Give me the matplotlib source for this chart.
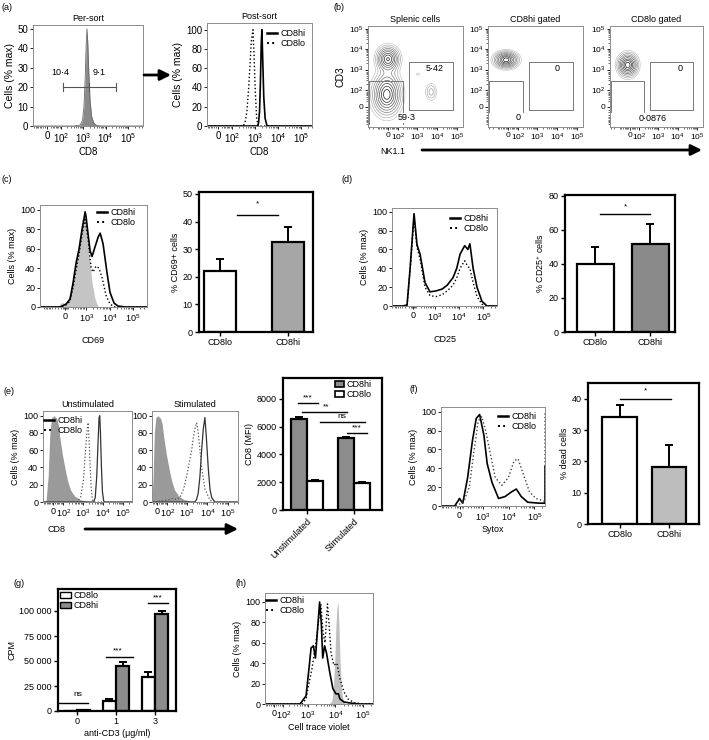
import numpy as np
import matplotlib
matplotlib.use("Agg")
import matplotlib.pyplot as plt
from matplotlib.patches import FancyArrowPatch, Patch
from matplotlib.lines import Line2D

plt.rcParams['font.family'] = ['Liberation Sans', 'DejaVu Sans']
plt.rcParams['mathtext.fontset'] = 'custom'
plt.rcParams['mathtext.rm'] = 'Liberation Sans'
plt.rcParams['mathtext.it'] = 'Liberation Sans:italic'
plt.rcParams['mathtext.bf'] = 'Liberation Sans:bold'
plt.rcParams['font.size'] = 6.5
plt.rcParams['xtick.major.size'] = 2
plt.rcParams['ytick.major.size'] = 2
plt.rcParams['xtick.minor.size'] = 1.2
plt.rcParams['ytick.minor.size'] = 1.2
plt.rcParams['xtick.major.pad'] = 1.5
plt.rcParams['ytick.major.pad'] = 1.5
plt.rcParams['axes.labelpad'] = 2

# ---------------- data ----------------
# (a) CD8 before / after sorting
pre_x = [-100, 400, 750, 950, 1100, 1250, 1380, 1500, 1620, 1800, 2050, 2400, 3000, 4000, 6000, 460000]
pre_y = [0, 0, 0.5, 3, 10, 25, 42, 50, 43, 28, 13, 5, 1.5, 0.3, 0, 0]
pre_gate = [120, 1800, 29400]
pre_gate_pct = ['10·4', '9·1']
post_lo_x = [-67, 300, 370, 450, 540, 620, 700, 830, 920, 1050, 1200, 1400, 307000]
post_lo_y = [0, 0, 3, 15, 40, 65, 88, 100, 75, 35, 8, 0, 0]
post_hi_x = [-67, 1300, 1450, 1600, 1750, 1900, 2030, 2200, 2450, 2800, 3400, 307000]
post_hi_y = [0, 0, 3, 15, 45, 85, 100, 70, 30, 8, 0, 0]

# (b) NK1.1 / CD3 populations: centre (data units), spread (display decades), weight
spl_x = [0, -10, 0, 5000, 1100]
spl_y = [3300, 54, 500, 78, 600]
spl_sx = [0.28, 0.36, 0.3, 0.16, 0.2]
spl_sy = [0.3, 0.5, 0.7, 0.24, 0.12]
spl_w = [1.0, 1.1, 0.12, 0.2, 0.05]
hig_x, hig_y, hig_sx, hig_sy, hig_w = [-15], [2970], [0.3], [0.2], [1.0]
log_x, log_y, log_sx, log_sy, log_w = [-15], [1680], [0.25], [0.28], [1.0]
gate_left_x = [-300, 190]
gate_left_top = 277
gate_right_x = [400, 60000]
gate_right_y = [-10, 2380]
spl_pct = ['5·42', '59·3']
hig_pct = ['0', '0']
log_pct = ['0', '0·0876']

# (c) CD69
cd69_iso_x = [-1460, -300, -187, -75, 23, 127, 290, 466, 644, 800, 970, 1310, 1770, 2380, 3230, 395000]
cd69_iso_y = [0, 0, 1, 5, 2, 15, 40, 70, 90, 97, 85, 55, 25, 8, 0, 0]
cd69_hi_x = [-1460, -125, 23, 127, 218, 325, 466, 644, 800, 880, 970, 1190, 1450, 1770, 2380, 3230,
             3950, 5250, 7750, 10400, 15500, 22700, 45600, 395000]
cd69_hi_y = [0, 0, 3, 8, 25, 45, 60, 80, 92, 98, 93, 75, 58, 52, 62, 72, 76, 65, 35, 15, 4, 1, 0, 0]
cd69_lo_x = [-1460, -125, 23, 127, 218, 325, 466, 644, 800, 880, 1190, 1610, 1950, 2640, 3530, 4770,
             7030, 10400, 17000, 395000]
cd69_lo_y = [0, 0, 2, 6, 20, 38, 55, 75, 86, 90, 70, 40, 36, 42, 40, 30, 12, 3, 0, 0]
groups = ['CD8lo', 'CD8hi']
cd69_mean = [22, 32.5]
cd69_err = [4.5, 5.5]

# (d) CD25
cd25_x = [-907, -300, -150, -70, 24, 97, 180, 350, 600, 1100, 2000, 3200, 5600, 8000, 11000, 17000,
          23000, 28000, 38000, 55000, 88000, 143000, 369000]
cd25_hi_y = [0, 0, 1, 40, 98, 65, 55, 25, 15, 16, 18, 22, 30, 40, 55, 64, 60, 66, 40, 20, 5, 0, 0]
cd25_lo_y = [0, 0, 1, 38, 95, 62, 50, 20, 11, 10, 12, 16, 22, 30, 40, 48, 42, 40, 25, 10, 2, 0, 0]
cd25_mean = [40, 51.5]
cd25_err = [10, 12]

# (e) CD8 after stimulation
e_un_iso_x = [-97, -60, -40, -25, -10, 10, 30, 45, 60, 90, 130, 180, 250, 400, 700, 1500, 3000, 6000, 271000]
e_un_iso_y = [0, 2, 30, 80, 98, 100, 97, 90, 75, 55, 38, 24, 14, 7, 3, 1, 0.5, 0, 0]
e_un_lo_x = [-97, 500, 800, 1100, 1400, 1700, 1900, 2200, 2600, 3000, 3500, 271000]
e_un_lo_y = [0, 0, 5, 25, 60, 85, 92, 60, 20, 3, 0, 0]
e_un_hi_x = [-97, 3500, 4200, 5000, 5800, 6500, 7000, 7600, 8500, 9500, 11000, 13000, 271000]
e_un_hi_y = [0, 0, 5, 30, 70, 98, 100, 80, 40, 12, 1, 0, 0]
e_st_iso_x = [-40, -30, -20, -8, 10, 30, 45, 60, 90, 130, 180, 250, 400, 700, 1500, 3000, 6000, 313000]
e_st_iso_y = [0, 30, 80, 98, 100, 97, 90, 75, 55, 38, 24, 14, 7, 3, 1, 0.5, 0, 0]
e_st_lo_x = [-40, 100, 200, 300, 460, 700, 990, 1300, 1730, 2100, 2500, 3030, 3610, 4400, 5300, 7670,
             13600, 20000, 313000]
e_st_lo_y = [0, 2, 4, 3, 5, 15, 30, 45, 60, 75, 85, 92, 80, 60, 40, 15, 2, 0, 0]
e_st_hi_x = [-40, 2500, 3000, 3610, 4400, 5300, 6400, 7670, 9000, 11100, 13500, 16400, 23700, 313000]
e_st_hi_y = [0, 0, 3, 10, 30, 60, 85, 98, 75, 40, 15, 5, 0, 0]
conditions = ['Unstimulated', 'Stimulated']
mfi_hi = [6550, 5150]
mfi_hi_err = [150, 100]
mfi_lo = [2100, 1950]
mfi_lo_err = [50, 50]

# (f) Sytox
f_hi_x = [-635, -300, -114, -40, 0, 40, 73, 196, 360, 530, 733, 1090, 1470, 2270, 4100, 7320, 13100,
          20100, 31200, 55800, 154000, 262000, 262000]
f_hi_y = [0, 0, 0, 5, 8, 5, 3, 30, 70, 93, 97, 75, 45, 25, 8, 10, 15, 18, 10, 4, 3, 3, 42]
f_lo_x = [-635, -300, -114, 0, 100, 246, 430, 640, 890, 1280, 1970, 3060, 5480, 9780, 16500, 23400,
          36300, 65400, 116000, 262000, 262000]
f_lo_y = [0, 0, 0, 2, 5, 20, 60, 90, 95, 80, 55, 30, 22, 30, 48, 50, 35, 15, 8, 5, 100]
dead_mean = [34, 18.2]
dead_err = [4, 7]

# (g) proliferation
doses = ['0', '1', '3']
cpm_lo = [200, 10000, 34000]
cpm_lo_err = [100, 2000, 5000]
cpm_hi = [1000, 45000, 97000]
cpm_hi_err = [300, 4000, 3000]

# (h) cell trace violet
h_hi_x = [-100, 520, 865, 1110, 1320, 1600, 1900, 2300, 2700, 3100, 3500, 4100, 4800, 6400, 8200,
          10500, 13000, 14700, 20600, 34000, 79000, 234000]
h_hi_y = [0, 0, 8, 35, 55, 57, 45, 75, 100, 80, 45, 57, 50, 30, 15, 10, 10, 5, 2, 1, 0, 0]
h_lo_x = [-100, 615, 865, 1010, 1430, 1980, 2560, 3000, 3580, 4240, 5200, 5900, 7000, 8900, 11400,
          14700, 20600, 28700, 51000, 120000, 234000]
h_lo_y = [0, 0, 5, 15, 35, 60, 85, 98, 70, 60, 98, 80, 50, 38, 40, 25, 12, 5, 1, 0, 0]
h_iso_x = [-100, 6000, 7500, 8500, 9500, 10500, 11500, 12500, 13500, 15000, 17000, 20000, 24000, 234000]
h_iso_y = [0, 0, 3, 15, 40, 75, 95, 100, 80, 40, 12, 2, 0, 0]

FLOW5 = {0: '0', 100: '$10^2$', 1000: '$10^3$', 10000: '$10^4$', 100000: '$10^5$'}
FLOW4 = {0: '0', 1000: '$10^3$', 10000: '$10^4$', 100000: '$10^5$'}

# ---------------- helpers ----------------
W, H = 709, 740
fig = plt.figure(figsize=(W / 100, H / 100), dpi=100)


def add_box(l, t, r, b):
    return fig.add_axes([l / W, 1 - b / H, (r - l) / W, (b - t) / H])


def fpos(x, y):
    return (x / W, 1 - y / H)


def flow_axis(ax, which, c, lim, ticks):
    fwd = lambda v: np.arcsinh(np.asarray(v, dtype=float) / c) / np.log(10)
    inv = lambda t: c * np.sinh(np.clip(np.asarray(t, dtype=float), -12, 12) * np.log(10))
    cand = sorted([m * 10.0 ** k for k in range(1, 6) for m in range(2, 10)] +
                  [-m * 10.0 ** k for k in (1, 2, 3) for m in range(1, 10)])
    minor, last = [], None
    for v in cand:
        if lim[0] < v < lim[1]:
            t = float(fwd(v))
            if last is None or abs(t - last) > 0.05:
                minor.append(v)
                last = t
    if which == 'x':
        ax.set_xscale('function', functions=(fwd, inv))
        ax.set_xlim(*lim)
        ax.set_xticks(list(ticks), labels=list(ticks.values()))
        ax.set_xticks(minor, minor=True)
    else:
        ax.set_yscale('function', functions=(fwd, inv))
        ax.set_ylim(*lim)
        ax.set_yticks(list(ticks), labels=list(ticks.values()))
        ax.set_yticks(minor, minor=True)
    return fwd, inv


def hist_axes(box, c, xlim, ylim, yticks, ticks, fs=6.5):
    ax = add_box(*box)
    flow_axis(ax, 'x', c, xlim, ticks)
    ax.set_ylim(*ylim)
    ax.set_yticks(yticks)
    for s in ax.spines.values():
        s.set_color('#8c8c8c')
        s.set_linewidth(0.7)
    ax.tick_params(labelsize=fs, width=0.6)
    ax.tick_params(which='minor', width=0.4)
    return ax


def line_legend(ax, x, y, fs=6.5):
    h = [Line2D([], [], color='k', lw=1.8), Line2D([], [], color='k', lw=1.4, ls=':')]
    ax.legend(h, ['CD8hi', 'CD8lo'], loc='upper left', bbox_to_anchor=fpos(x, y),
              bbox_transform=fig.transFigure, frameon=False, fontsize=fs, handlelength=1.1,
              handletextpad=0.35, labelspacing=0.1, borderpad=0, borderaxespad=0)


def bar_axes(box):
    ax = add_box(*box)
    for s in ax.spines.values():
        s.set_linewidth(1.6)
    ax.tick_params(width=1, length=3, labelsize=6.5)
    return ax


def bars(ax, pos, vals, errs, colors, width):
    ax.bar(pos, vals, width, color=colors, edgecolor='black', linewidth=1.6, zorder=2)
    ax.errorbar(pos, vals, yerr=[np.zeros(len(vals)), errs], fmt='none', ecolor='black',
                elinewidth=1.4, capsize=3.2, capthick=1.4, zorder=1)


def sig(ax, x0, x1, y, txt, ty, tx=None, fs=6):
    ax.plot([x0, x1], [y, y], color='k', lw=1)
    ax.text((x0 + x1) / 2 if tx is None else tx, ty, txt, ha='center', va='center', fontsize=fs)


def arrow(x0, x1, y):
    fig.add_artist(FancyArrowPatch(fpos(x0, y), fpos(x1, y), transform=fig.transFigure,
                                   arrowstyle='-|>,head_length=0.8,head_width=0.4', mutation_scale=8,
                                   lw=2, color='k', shrinkA=0, shrinkB=0))


def label(x, y, s):
    fig.text(x / W, 1 - y / H, s, fontsize=6.5, ha='left', va='center')


# ---------------- (a) ----------------
label(2, 8, '(a)')
ax = hist_axes((33, 25, 143, 126), 50, (-98, 460000), (0, 52), range(0, 51, 10), FLOW5, fs=7)
ax.fill_between(pre_x, pre_y, color='#8a8a8a', lw=0)
ax.plot(pre_x, pre_y, color='#6a6a6a', lw=0.6)
ax.plot([pre_gate[0], pre_gate[2]], [20, 20], color='#555555', lw=0.8)
for g in pre_gate:
    ax.plot([g, g], [17.8, 22.2], color='#555555', lw=0.8)
ax.text(0.245, 0.525, pre_gate_pct[0], transform=ax.transAxes, fontsize=6.5, ha='center', va='center')
ax.text(0.6, 0.525, pre_gate_pct[1], transform=ax.transAxes, fontsize=6.5, ha='center', va='center')
ax.set_title('Per-sort', fontsize=6.5, pad=3)
ax.set_xlabel('CD8', fontsize=7)
ax.set_ylabel('Cells (% max)', fontsize=7.5)

arrow(144, 171, 75)

ax = hist_axes((207, 23, 312, 126), 50, (-67, 307000), (0, 107), range(0, 101, 20), FLOW5, fs=7)
ax.plot(post_hi_x, post_hi_y, color='k', lw=1.2)
ax.plot(post_lo_x, post_lo_y, color='k', lw=1.0, ls=':')
ax.set_title('Post-sort', fontsize=6.5, pad=3)
ax.set_xlabel('CD8', fontsize=7)
ax.set_ylabel('Cells (% max)', fontsize=7.5)
line_legend(ax, 267, 29)

# ---------------- (b) ----------------
label(333, 8, '(b)')
levels = np.array([0.04, 0.08, 0.14, 0.22, 0.32, 0.45, 0.6, 0.75, 0.9])
bx_lim = (-346, 196000)
by_lim = (-142, 134000)


def contour_panel(box, title, pxs, pys, sxs, sys_, ws, left_bottom, pct, pct_pos):
    ax = add_box(*box)
    fx, ix = flow_axis(ax, 'x', 70, bx_lim, FLOW5)
    fy, iy = flow_axis(ax, 'y', 30, by_lim, FLOW5)
    tx = np.linspace(fx(bx_lim[0]), fx(bx_lim[1]), 240)
    ty = np.linspace(fy(by_lim[0]), fy(by_lim[1]), 240)
    TX, TY = np.meshgrid(tx, ty)
    Z = np.zeros_like(TX)
    for x0, y0, sx, sy, w in zip(pxs, pys, sxs, sys_, ws):
        Z += w * np.exp(-0.5 * (((TX - fx(x0)) / sx) ** 2 + ((TY - fy(y0)) / sy) ** 2))
    cols = [plt.cm.Greys(v) for v in np.linspace(0.35, 0.92, len(levels))]
    ax.contour(ix(TX), iy(TY), Z, levels=Z.max() * levels, colors=cols, linewidths=0.5)
    gx0, gx1 = gate_left_x
    ax.plot([gx0, gx0, gx1, gx1], [left_bottom, gate_left_top, gate_left_top, left_bottom],
            color='#777777', lw=0.7)
    rx0, rx1 = gate_right_x
    ry0, ry1 = gate_right_y
    ax.plot([rx0, rx1, rx1, rx0, rx0], [ry0, ry0, ry1, ry1, ry0], color='#777777', lw=0.7)
    for s, (u, v) in zip(pct, pct_pos):
        ax.text(u, v, s, transform=ax.transAxes, fontsize=6.5, ha='center', va='center',
                bbox=dict(facecolor='white', edgecolor='none', pad=0.3))
    for s in ax.spines.values():
        s.set_color('#8c8c8c')
        s.set_linewidth(0.7)
    ax.tick_params(labelsize=6, width=0.6)
    ax.tick_params(which='minor', width=0.4)
    ax.set_title(title, fontsize=6.5, pad=3)
    return ax


ax = contour_panel((368, 26, 463, 127), 'Splenic cells', spl_x, spl_y, spl_sx, spl_sy, spl_w, -100,
                   spl_pct, [(0.705, 0.584), (0.41, 0.09)])
ax.set_ylabel('CD3', fontsize=7.5)
contour_panel((488, 26, 583, 127), 'CD8hi gated', hig_x, hig_y, hig_sx, hig_sy, hig_w, -17,
              hig_pct, [(0.726, 0.584), (0.316, 0.09)])
contour_panel((610, 26, 703, 127), 'CD8lo gated', log_x, log_y, log_sx, log_sy, log_w, -17,
              log_pct, [(0.753, 0.584), (0.46, 0.08)])
fig.text(393 / W, 1 - 152 / H, 'NK1.1', fontsize=6.5, ha='center', va='center')
arrow(422, 702, 150)

# ---------------- (c) ----------------
label(2, 180, '(c)')
ax = hist_axes((40, 205, 147, 307), 250, (-1460, 395000), (0, 105), range(0, 101, 20), FLOW4)
ax.fill_between(cd69_iso_x, cd69_iso_y, color='#c4c4c4', lw=0)
ax.plot(cd69_hi_x, cd69_hi_y, color='k', lw=1.2)
ax.plot(cd69_lo_x, cd69_lo_y, color='k', lw=1.0, ls=':')
ax.set_xlabel('CD69', labelpad=9)
ax.set_ylabel('Cells (% max)', fontsize=6.5)
line_legend(ax, 97, 208)

ax = bar_axes((199, 192, 313, 332))
bars(ax, [0, 1], cd69_mean, cd69_err, ['white', '#a6a6a6'], 0.47)
ax.set_xlim(-0.31, 1.37)
ax.set_ylim(0, 50.7)
ax.set_yticks(range(0, 51, 10))
ax.set_xticks([0, 1], labels=groups)
ax.set_ylabel('% CD69+ cells', fontsize=6.5)
sig(ax, 0.25, 0.85, 42.5, '*', 46.3)

# ---------------- (d) ----------------
label(341, 180, '(d)')
ax = hist_axes((392, 208, 497, 306), 250, (-907, 369000), (0, 104), range(0, 101, 20), FLOW4)
ax.plot(cd25_x, cd25_hi_y, color='k', lw=1.2)
ax.plot(cd25_x, cd25_lo_y, color='k', lw=1.0, ls=':')
ax.set_xlabel('CD25', labelpad=9)
ax.set_ylabel('Cells (% max)', fontsize=6.5)
line_legend(ax, 450, 214)

ax = bar_axes((565, 195, 675, 332))
bars(ax, [0, 1], cd25_mean, cd25_err, ['white', '#8a8a8a'], 0.67)
ax.set_xlim(-0.55, 1.45)
ax.set_ylim(0, 80.5)
ax.set_yticks(range(0, 81, 20))
ax.set_xticks([0, 1], labels=groups)
ax.set_ylabel('% CD25$^{+}$ cells', fontsize=6.5)
sig(ax, 0.09, 1.0, 69.4, '*', 73.5)

# ---------------- (e) ----------------
label(3, 392, '(e)')
ax = hist_axes((43, 411, 132, 502), 70, (-97, 271000), (0, 105.5), range(0, 101, 20), FLOW5)
ax.fill_between(e_un_iso_x, e_un_iso_y, color='#9a9a9a', lw=0)
ax.plot(e_un_hi_x, e_un_hi_y, color='#333333', lw=0.9)
ax.plot(e_un_lo_x, e_un_lo_y, color='#555555', lw=0.9, ls=':')
ax.set_title('Unstimulated', fontsize=6.5, pad=3)
ax.set_ylabel('Cells (% max)', fontsize=6.5)
line_legend(ax, 44, 416)

ax = hist_axes((152, 411, 238, 502), 70, (-40, 313000), (0, 105.5), range(0, 101, 20), FLOW5)
ax.fill_between(e_st_iso_x, e_st_iso_y, color='#9a9a9a', lw=0)
ax.plot(e_st_hi_x, e_st_hi_y, color='#333333', lw=0.9)
ax.plot(e_st_lo_x, e_st_lo_y, color='#555555', lw=0.9, ls=':')
ax.set_title('Stimulated', fontsize=6.5, pad=3)
fig.text(57 / W, 1 - 530 / H, 'CD8', fontsize=6.5, ha='center', va='center')
arrow(85, 238, 529)

ax = bar_axes((283, 378, 382, 510))
pos = np.arange(len(conditions))
bars(ax, pos - 0.17, mfi_hi, mfi_hi_err, '#8c8c8c', 0.34)
bars(ax, pos + 0.17, mfi_lo, mfi_lo_err, 'white', 0.34)
ax.set_xlim(-0.51, 1.6)
ax.set_ylim(0, 9500)
ax.set_yticks(range(0, 8001, 2000))
ax.set_xticks(pos, labels=conditions, rotation=45, ha='right', va='top', rotation_mode='anchor')
ax.set_ylabel('CD8 (MFI)', fontsize=6.5)
sig(ax, -0.19, 0.23, 7700, '***', 8050, tx=0.02)
sig(ax, -0.1, 0.85, 7070, '**', 7450, tx=0.4)
sig(ax, 0.28, 1.23, 6300, 'ns', 6700, tx=0.74)
sig(ax, 0.85, 1.28, 5560, '***', 5920, tx=1.06)
ax.legend([Patch(facecolor='#8c8c8c', edgecolor='k', lw=1.2), Patch(facecolor='white', edgecolor='k', lw=1.2)],
          ['CD8hi', 'CD8lo'], loc='upper left', bbox_to_anchor=fpos(335, 380), bbox_transform=fig.transFigure,
          frameon=False, fontsize=6.5, handlelength=1.0, handleheight=0.7, handletextpad=0.3,
          labelspacing=0.1, borderpad=0, borderaxespad=0)

# ---------------- (f) ----------------
label(410, 390, '(f)')
ax = hist_axes((441, 407, 545, 506), 250, (-635, 262000), (0, 105), range(0, 101, 20), FLOW4)
ax.plot(f_hi_x, f_hi_y, color='k', lw=1.2)
ax.plot(f_lo_x, f_lo_y, color='#444444', lw=1.0, ls=':')
ax.set_xlabel('Sytox', fontsize=6.5)
ax.set_ylabel('Cells (% max)', fontsize=6.5)
line_legend(ax, 498, 412)

ax = bar_axes((588, 383, 699, 524))
bars(ax, [0, 1], dead_mean, dead_err, ['white', '#bdbdbd'], 0.71)
ax.set_xlim(-0.65, 1.61)
ax.set_ylim(0, 45)
ax.set_yticks(range(0, 41, 10))
ax.set_xticks([0, 1], labels=groups)
ax.set_ylabel('% dead cells', fontsize=6.5)
sig(ax, 0.0, 1.04, 40, '*', 42.5)

# ---------------- (g) ----------------
label(13, 583, '(g)')
ax = bar_axes((58, 589, 176, 711))
pos = np.arange(len(doses))
bars(ax, pos - 0.17, cpm_lo, cpm_lo_err, 'white', 0.34)
bars(ax, pos + 0.17, cpm_hi, cpm_hi_err, '#8c8c8c', 0.34)
ax.set_xlim(-0.49, 2.54)
ax.set_ylim(0, 122000)
ax.set_yticks([0, 25000, 50000, 75000, 100000], labels=['0', '25 000', '50 000', '75 000', '100 000'])
ax.set_xticks(pos, labels=doses)
ax.set_xlabel('anti-CD3 (μg/ml)', fontsize=6.5)
ax.set_ylabel('CPM', fontsize=6.5)
sig(ax, -0.49, 0.29, 8400, 'ns', 17000, tx=0.03)
sig(ax, 0.73, 1.43, 53900, '***', 60000, tx=1.05)
sig(ax, 1.82, 2.34, 107800, '***', 113500, tx=2.08)
ax.legend([Patch(facecolor='white', edgecolor='k', lw=1.0), Patch(facecolor='#8c8c8c', edgecolor='k', lw=1.0)],
          ['CD8lo', 'CD8hi'], loc='upper left', bbox_to_anchor=fpos(60, 591), bbox_transform=fig.transFigure,
          frameon=False, fontsize=6.5, handlelength=1.2, handleheight=0.7, handletextpad=0.3,
          labelspacing=0.1, borderpad=0, borderaxespad=0)

# ---------------- (h) ----------------
label(236, 583, '(h)')
ax = hist_axes((265, 593, 373, 704), 120, (-100, 234000), (0, 108.8), range(0, 101, 20), FLOW5)
ax.fill_between(h_iso_x, h_iso_y, color='#bfbfbf', lw=0)
ax.plot(h_hi_x, h_hi_y, color='k', lw=1.2)
ax.plot(h_lo_x, h_lo_y, color='k', lw=1.0, ls=':')
ax.set_xlabel('Cell trace violet', fontsize=6.5)
ax.set_ylabel('Cells (% max)', fontsize=6.5)
line_legend(ax, 266, 596)

fig.savefig('out.png', dpi=100)
